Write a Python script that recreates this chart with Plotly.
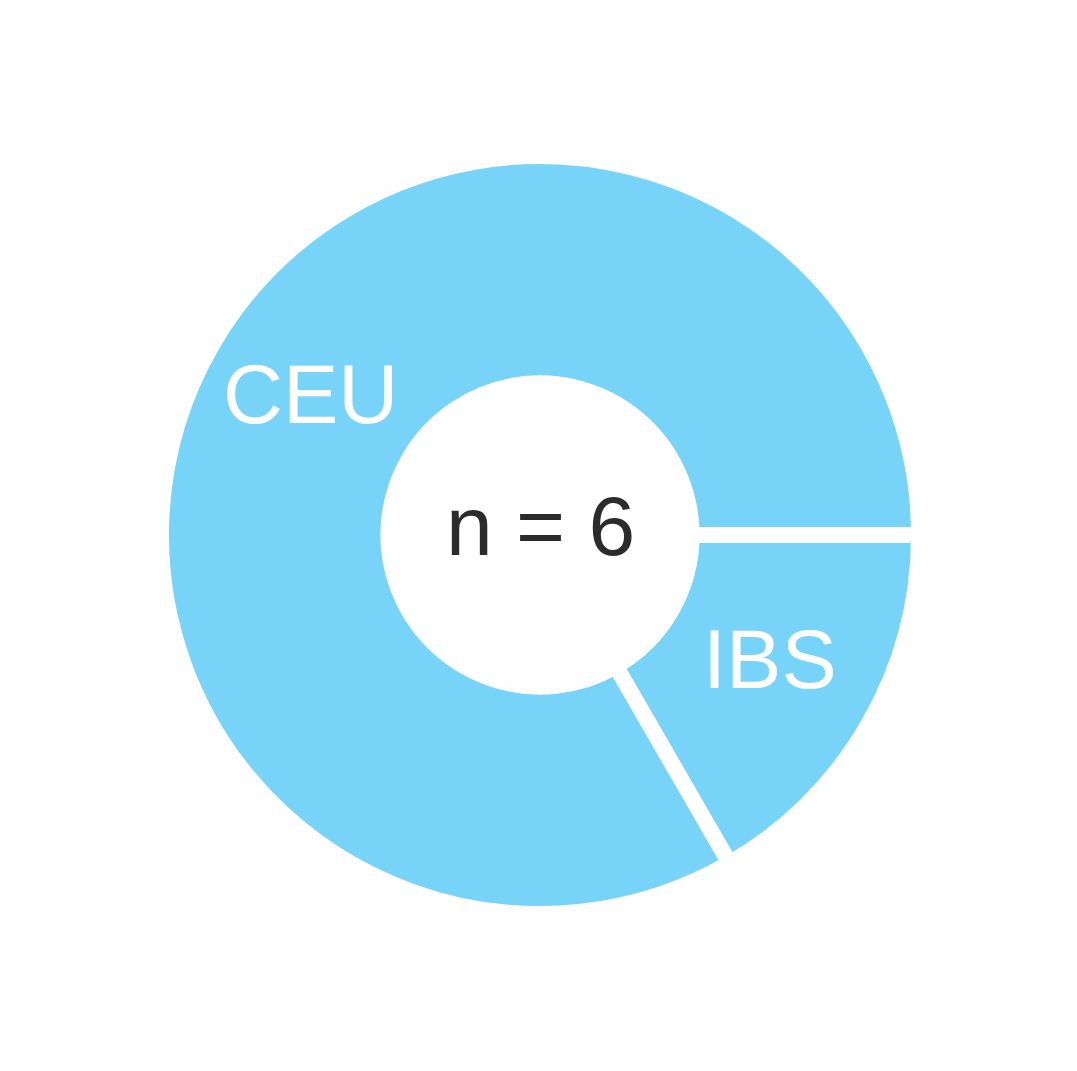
import math
import plotly.graph_objects as go

labels = ["IBS", "CEU"]
values = [1, 5]
center_text = "n = 6"

color = "#77D3F7"
W, H = 1077, 1071
R_OUT = 379  # px, including stroke
HOLE = 0.40
LINE_W = 16
CX, CY = 532, 527  # pie centre in figure px (page body adds 8px offset)

ml = CX - R_OUT
mt = CY - R_OUT
mr = W - ml - 2 * R_OUT
mb = H - mt - 2 * R_OUT

fig = go.Figure(go.Pie(
    labels=labels, values=values, sort=False, direction="clockwise",
    rotation=90, hole=HOLE, textinfo="none", hoverinfo="label+value",
    marker=dict(colors=[color] * len(values), line=dict(color="white", width=LINE_W)),
    showlegend=False,
))

total = sum(values)
start = 0.0  # degrees, clockwise from 3 o'clock
annotations = []
r_mid = (1 + HOLE) / 4  # fraction of plot area side
for lab, v in zip(labels, values):
    span = 360.0 * v / total
    mid = start + span / 2
    a = math.radians(mid)
    x = 0.5 + r_mid * math.cos(a)
    y = 0.5 - r_mid * math.sin(a)
    annotations.append(dict(x=x, y=y, xref="paper", yref="paper", text=lab,
                            showarrow=False, xanchor="center", yanchor="middle", yshift=8,
                            font=dict(family="Liberation Sans, Arial", size=83, color="white")))
    start += span

annotations.append(dict(x=0.5, y=0.5, xref="paper", yref="paper", text=center_text,
                        showarrow=False, xanchor="center", yanchor="middle", yshift=9,
                        font=dict(family="Liberation Sans, Arial", size=84, color="#2b2b2b")))

fig.update_layout(
    width=W, height=H,
    margin=dict(l=ml, r=mr, t=mt, b=mb, pad=0),
    paper_bgcolor="white", plot_bgcolor="white",
    annotations=annotations,
)

fig.write_html("out.html")
